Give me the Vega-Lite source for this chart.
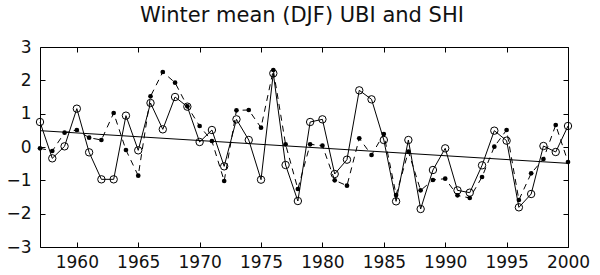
{
  "$schema": "https://vega.github.io/schema/vega-lite/v6.json",
  "width": 528,
  "height": 200,
  "autosize": "none",
  "padding": {"left": 40, "top": 47, "right": 32, "bottom": 28},
  "title": {"text": "Winter mean (DJF) UBI and SHI", "font": "DejaVu Sans", "fontSize": 21, "fontWeight": "normal", "color": "#111", "anchor": "middle", "dx": -2, "offset": 12},
  "datasets": {
    "series": [
      {"year": 1957, "UBI": 0.75, "SHI": -0.04},
      {"year": 1958, "UBI": -0.34, "SHI": -0.12},
      {"year": 1959, "UBI": 0.02, "SHI": 0.43},
      {"year": 1960, "UBI": 1.15, "SHI": 0.51},
      {"year": 1961, "UBI": -0.16, "SHI": 0.28},
      {"year": 1962, "UBI": -0.97, "SHI": 0.21},
      {"year": 1963, "UBI": -0.97, "SHI": 1.02},
      {"year": 1964, "UBI": 0.94, "SHI": -0.09},
      {"year": 1965, "UBI": -0.10, "SHI": -0.86},
      {"year": 1966, "UBI": 1.32, "SHI": 1.52},
      {"year": 1967, "UBI": 0.53, "SHI": 2.25},
      {"year": 1968, "UBI": 1.50, "SHI": 1.93},
      {"year": 1969, "UBI": 1.21, "SHI": 1.22},
      {"year": 1970, "UBI": 0.15, "SHI": 0.63},
      {"year": 1971, "UBI": 0.51, "SHI": 0.18},
      {"year": 1972, "UBI": -0.58, "SHI": -1.02},
      {"year": 1973, "UBI": 0.83, "SHI": 1.10},
      {"year": 1974, "UBI": 0.21, "SHI": 1.11},
      {"year": 1975, "UBI": -0.98, "SHI": 0.58},
      {"year": 1976, "UBI": 2.21, "SHI": 2.31},
      {"year": 1977, "UBI": -0.54, "SHI": 0.08},
      {"year": 1978, "UBI": -1.62, "SHI": -1.26},
      {"year": 1979, "UBI": 0.75, "SHI": 0.08},
      {"year": 1980, "UBI": 0.83, "SHI": 0.04},
      {"year": 1981, "UBI": -0.81, "SHI": -1.00},
      {"year": 1982, "UBI": -0.38, "SHI": -1.16},
      {"year": 1983, "UBI": 1.70, "SHI": 0.26},
      {"year": 1984, "UBI": 1.43, "SHI": -0.24},
      {"year": 1985, "UBI": 0.21, "SHI": 0.39},
      {"year": 1986, "UBI": -1.63, "SHI": -1.44},
      {"year": 1987, "UBI": 0.21, "SHI": -0.14},
      {"year": 1988, "UBI": -1.86, "SHI": -1.30},
      {"year": 1989, "UBI": -0.69, "SHI": -0.99},
      {"year": 1990, "UBI": -0.04, "SHI": -0.95},
      {"year": 1991, "UBI": -1.30, "SHI": -1.45},
      {"year": 1992, "UBI": -1.37, "SHI": -1.53},
      {"year": 1993, "UBI": -0.55, "SHI": -0.90},
      {"year": 1994, "UBI": 0.49, "SHI": 0.01},
      {"year": 1995, "UBI": 0.19, "SHI": 0.51},
      {"year": 1996, "UBI": -1.81, "SHI": -1.59},
      {"year": 1997, "UBI": -1.41, "SHI": -0.79},
      {"year": 1998, "UBI": 0.03, "SHI": -0.36},
      {"year": 1999, "UBI": -0.15, "SHI": 0.66},
      {"year": 2000, "UBI": 0.63, "SHI": -0.45}
    ],
    "trend": [
      {"year": 1957, "trend": 0.49},
      {"year": 2000, "trend": -0.49}
    ]
  },
  "layer": [
    {
      "data": {"name": "trend"},
      "mark": {"type": "line", "color": "black", "strokeWidth": 1},
      "encoding": {
        "x": {"field": "year", "type": "quantitative", "scale": {"domain": [1957, 2000], "nice": false, "zero": false},
              "axis": {"orient": "bottom", "values": [1960, 1965, 1970, 1975, 1980, 1985, 1990, 1995, 2000], "format": "d", "labelPadding": 12, "labelOverlap": false, "labelBound": false, "labelFlush": false}},
        "y": {"field": "trend", "type": "quantitative", "scale": {"domain": [-3, 3], "nice": false, "zero": false},
              "axis": {"orient": "left", "values": [-3, -2, -1, 0, 1, 2, 3], "format": "d", "labelPadding": 14, "labelOverlap": false, "labelBound": false, "labelFlush": false}}
      }
    },
    {
      "data": {"name": "series"},
      "mark": {"type": "line", "color": "black", "strokeWidth": 1},
      "encoding": {
        "x": {"field": "year", "type": "quantitative",
              "axis": {"orient": "top", "values": [1960, 1965, 1970, 1975, 1980, 1985, 1990, 1995, 2000], "labels": false}},
        "y": {"field": "UBI", "type": "quantitative",
              "axis": {"orient": "right", "values": [-3, -2, -1, 0, 1, 2, 3], "labels": false}}
      }
    },
    {
      "data": {"name": "series"},
      "mark": {"type": "line", "color": "black", "strokeWidth": 1, "strokeDash": [6, 5]},
      "encoding": {
        "x": {"field": "year", "type": "quantitative", "axis": null},
        "y": {"field": "SHI", "type": "quantitative", "axis": null}
      }
    },
    {
      "data": {"name": "series"},
      "mark": {"type": "point", "shape": "circle", "filled": false, "color": "black", "strokeWidth": 1, "size": 55, "opacity": 1},
      "encoding": {
        "x": {"field": "year", "type": "quantitative", "axis": null},
        "y": {"field": "UBI", "type": "quantitative", "axis": null}
      }
    },
    {
      "data": {"name": "series"},
      "mark": {"type": "circle", "color": "black", "size": 22, "opacity": 1},
      "encoding": {
        "x": {"field": "year", "type": "quantitative", "axis": null},
        "y": {"field": "SHI", "type": "quantitative", "axis": null}
      }
    }
  ],
  "config": {
    "view": {"stroke": "black", "strokeWidth": 1},
    "axis": {"grid": false, "domain": false, "tickColor": "black", "tickSize": -5, "labelFont": "DejaVu Sans", "labelFontSize": 17, "labelColor": "#111", "title": null}
  }
}
